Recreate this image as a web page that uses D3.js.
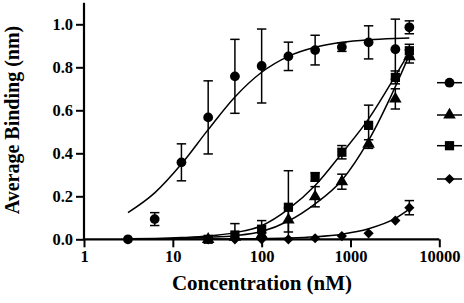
<!DOCTYPE html>
<html>
<head>
<meta charset="utf-8">
<script src="https://cdn.jsdelivr.net/npm/d3@7"></script>
<style>
  html, body { margin: 0; padding: 0; background: #fff; }
  svg { display: block; }
  text { font-family: "Liberation Serif", "Times New Roman", serif; font-weight: bold; fill: #000; }
</style>
</head>
<body>
<svg id="chart" width="464" height="303"></svg>
<script>
// ---- data ----
const xTicks = [1, 10, 100, 1000, 10000];
const yTicks = [0, 0.2, 0.4, 0.6, 0.8, 1.0];

const circleConc = [3.125, 6.25, 12.5, 25, 50, 100, 200, 400, 800, 1600, 3200, 4600];
const circleMean = [0, 0.094, 0.358, 0.567, 0.758, 0.806, 0.851, 0.880, 0.894, 0.916, 0.884, 0.986];
const circleErr  = [0, 0.030, 0.086, 0.170, 0.172, 0.172, 0.066, 0.069, 0.020, 0.077, 0.140, 0.030];

const triConc = [25, 50, 100, 200, 400, 800, 1600, 3200, 4600];
const triMean = [0, 0.010, 0.020, 0.090, 0.198, 0.268, 0.443, 0.653, 0.850];
const triErr  = [0, 0, 0.010, 0.056, 0.047, 0.035, 0.020, 0.047, 0.030];

const sqConc = [25, 50, 100, 200, 400, 800, 1600, 3200, 4600];
const sqMean = [0, 0.020, 0.047, 0.149, 0.290, 0.405, 0.530, 0.753, 0.877];
const sqErr  = [0, 0.053, 0.040, 0.170, 0.020, 0.031, 0.094, 0.030, 0.030];

const diaConc = [25, 50, 100, 200, 400, 800, 1600, 3200, 4600];
const diaMean = [0, 0, 0, 0, 0.005, 0.015, 0.028, 0.087, 0.147];
const diaErr  = [0, 0, 0, 0, 0, 0, 0, 0, 0.033];

// fitted curves
const fitConc       = [3.125, 6.25, 12.5, 25, 50, 100, 200, 400, 800, 1600, 3200, 4600];
const circleFit     = [0.124, 0.216, 0.350, 0.510, 0.662, 0.777, 0.851, 0.893, 0.916, 0.928, 0.934, 0.936];
const squareFit     = [0.002, 0.004, 0.008, 0.015, 0.031, 0.063, 0.140, 0.250, 0.400, 0.560, 0.760, 0.870];
const triangleFit   = [0.001, 0.002, 0.004, 0.009, 0.017, 0.036, 0.085, 0.165, 0.275, 0.460, 0.710, 0.858];
const diamondFit    = [0.000, 0.000, 0.000, 0.001, 0.002, 0.003, 0.006, 0.012, 0.024, 0.049, 0.097, 0.140];

// ---- layout ----
const svg = d3.select("#chart");
const x = d3.scaleLog().domain([1, 10000]).range([84, 439.3]);
const y = d3.scaleLinear().domain([0, 1.1]).range([239.3, 2.8]);

// axes
const xAxis = d3.axisBottom(x).tickValues(xTicks).tickFormat(d3.format("d")).tickSize(8).tickPadding(3);
const yAxis = d3.axisLeft(y).tickValues(yTicks).tickFormat(d3.format(".1f")).tickSize(8).tickPadding(3);

const gx = svg.append("g").attr("transform", `translate(0,${y(0)})`).call(xAxis);
const gy = svg.append("g").attr("transform", `translate(${x(1)},0)`).call(yAxis);
[gx, gy].forEach(g => {
  g.select(".domain").attr("stroke", "#000").attr("stroke-width", 2.2);
  g.selectAll(".tick line").attr("stroke", "#000").attr("stroke-width", 2);
  g.selectAll(".tick text").style("font-family", '"Liberation Serif", serif')
    .style("font-weight", "bold").style("font-size", "16.5px").attr("fill", "#000");
});
gx.select(".domain").attr("d", `M${x(1)},0H${x(10000)}`);
gy.select(".domain").attr("d", `M0,${y(0)}V${y(1.1)}`);

// axis titles
svg.append("text").attr("x", 262).attr("y", 290).attr("text-anchor", "middle")
  .style("font-size", "21px").text("Concentration (nM)");
svg.append("text").attr("transform", "translate(19,120) rotate(-90)").attr("text-anchor", "middle")
  .style("font-size", "20px").text("Average Binding (nm)");

// fitted curves
const line = d3.line().x(d => x(d[0])).y(d => y(d[1])).curve(d3.curveMonotoneX);
[circleFit, squareFit, triangleFit, diamondFit].forEach(fit => {
  svg.append("path").datum(fitConc.map((c, i) => [c, fit[i]]))
    .attr("d", line).attr("fill", "none").attr("stroke", "#000").attr("stroke-width", 1.5);
});

// symbols
const symCircle = d3.symbol().type(d3.symbolCircle).size(75);
const symTri = d3.symbol().type(d3.symbolTriangle).size(68);
const symSq = d3.symbol().type(d3.symbolSquare).size(85);
const symDia = d3.symbol().type(d3.symbolSquare).size(52); // rotated 45deg below
const rotations = [0, 0, 0, 45];

const series = [
  { conc: circleConc, mean: circleMean, err: circleErr, sym: symCircle, rot: rotations[0] },
  { conc: triConc, mean: triMean, err: triErr, sym: symTri, rot: rotations[1] },
  { conc: sqConc, mean: sqMean, err: sqErr, sym: symSq, rot: rotations[2] },
  { conc: diaConc, mean: diaMean, err: diaErr, sym: symDia, rot: rotations[3] },
];

series.forEach(s => {
  const data = s.conc.map((c, i) => ({ c, m: s.mean[i], e: s.err[i] }));
  const eb = svg.append("g");
  data.filter(d => d.e > 0).forEach(d => {
    const cx = x(d.c), y1 = y(d.m + d.e), y2 = y(Math.max(0, d.m - d.e));
    eb.append("line").attr("x1", cx).attr("x2", cx).attr("y1", y1).attr("y2", y2)
      .attr("stroke", "#000").attr("stroke-width", 1.5);
    [y1, y2].forEach(yy => eb.append("line").attr("x1", cx - 4.7).attr("x2", cx + 4.7)
      .attr("y1", yy).attr("y2", yy).attr("stroke", "#000").attr("stroke-width", 1.5));
  });
  svg.append("g").selectAll("path").data(data).join("path")
    .attr("d", s.sym)
    .attr("transform", d => `translate(${x(d.c)},${y(d.m)}) rotate(${s.rot})`)
    .attr("fill", "#000");
});

// legend (symbols only)
const legendY = [82.7, 115, 145.7, 179];
legendY.forEach((ly, i) => {
  svg.append("line").attr("x1", 437).attr("x2", 462).attr("y1", ly).attr("y2", ly)
    .attr("stroke", "#000").attr("stroke-width", 1.5);
  svg.append("path").attr("d", series[i].sym)
    .attr("transform", `translate(449.5,${ly}) rotate(${series[i].rot})`).attr("fill", "#000");
});
</script>
</body>
</html>
